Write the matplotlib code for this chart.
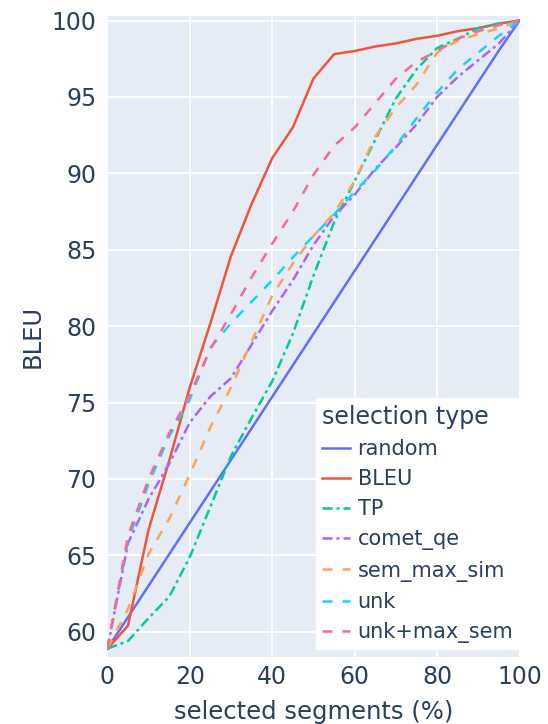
import matplotlib
matplotlib.use("Agg")
import matplotlib.pyplot as plt

plt.rcParams['font.family'] = ['DejaVu Sans']

# selected segments (%)
pct = [0, 5, 10, 15, 20, 25, 30, 35, 40, 45, 50, 55, 60, 65, 70, 75, 80, 85, 90, 95, 100]

random_ = [58.9, 60.96, 63.02, 65.08, 67.14, 69.2, 71.26, 73.32, 75.38, 77.44, 79.5,
           81.56, 83.62, 85.68, 87.74, 89.8, 91.86, 93.92, 95.98, 98.04, 100]
bleu = [58.9, 60.4, 66.7, 71.2, 76.0, 80.2, 84.6, 88.0, 91.0, 93.0, 96.2,
        97.8, 98.0, 98.3, 98.5, 98.8, 99.0, 99.3, 99.5, 99.8, 100]
tp = [58.9, 59.4, 60.9, 62.3, 64.9, 68.2, 71.5, 74.0, 76.4, 79.5, 83.3,
      86.8, 89.5, 92.2, 94.9, 96.8, 98.2, 98.8, 99.5, 99.8, 100]
comet_qe = [58.9, 65.8, 68.7, 71.0, 73.7, 75.4, 76.6, 78.8, 81.0, 83.0, 85.3,
            87.2, 88.6, 90.3, 91.7, 93.2, 95.0, 96.3, 97.4, 98.5, 100]
sem_max_sim = [58.9, 61.5, 65.1, 67.4, 70.3, 73.4, 76.0, 79.0, 82.0, 84.1, 85.9,
               87.4, 89.5, 92.4, 94.3, 95.8, 97.9, 98.7, 99.1, 99.5, 100]
unk = [58.9, 66.0, 69.7, 72.8, 75.2, 78.6, 80.2, 81.6, 83.0, 84.5, 85.9,
       87.3, 88.8, 90.2, 91.8, 93.6, 95.3, 96.8, 97.9, 99.0, 100]
unk_max_sem = [58.9, 66.3, 70.0, 73.0, 75.5, 78.5, 80.8, 83.2, 85.4, 87.5, 89.9,
               91.8, 93.0, 94.6, 96.2, 97.3, 98.0, 98.8, 99.3, 99.7, 100]

names = ["random", "BLEU", "TP", "comet_qe", "sem_max_sim", "unk", "unk+max_sem"]
series = [random_, bleu, tp, comet_qe, sem_max_sim, unk, unk_max_sem]
colors = ["#636EFA", "#EF553B", "#00CC96", "#AB63FA", "#FFA15A", "#19D3F3", "#FF6692"]
dashes = [None, None, (4, 1.6, 1.2, 1.6), (4, 1.6, 1.2, 1.6), (4, 4), (4, 4), (4, 4)]

txt = "#2a3f5f"
fig = plt.figure(figsize=(5.48, 7.24), dpi=100)
ax = fig.add_axes([0.196, 0.0925, 0.752, 0.8855])
ax.set_facecolor("#E5ECF6")

for name, ys, c, d in zip(names, series, colors, dashes):
    line, = ax.plot(pct, ys, color=c, lw=1.8, label=name)
    if d is not None:
        line.set_dashes(d)

ax.set_xlim(0, 100)
ax.set_ylim(58.35, 100.3)
ax.set_xticks([0, 20, 40, 60, 80, 100])
ax.set_yticks([60, 65, 70, 75, 80, 85, 90, 95, 100])
ax.grid(True, color="white", lw=1.3)
ax.set_axisbelow(True)
for s in ax.spines.values():
    s.set_visible(False)
ax.tick_params(length=0, labelsize=17, labelcolor=txt)
ax.tick_params(axis="x", pad=6)
ax.tick_params(axis="y", pad=8)
ax.set_xlabel("selected segments (%)", fontsize=17.5, color=txt, labelpad=8)
ax.set_ylabel("BLEU", fontsize=17.5, color=txt, labelpad=5)

leg = ax.legend(title="selection type", loc="lower right", bbox_to_anchor=(1.0, 0.012),
                fontsize=15, title_fontsize=17, frameon=True, fancybox=False,
                handlelength=1.35, handletextpad=0.35, labelspacing=0.49,
                borderpad=0.3, borderaxespad=0.0)
leg.get_frame().set_facecolor("white")
leg.get_frame().set_edgecolor("white")
leg.get_frame().set_alpha(1)
leg._legend_box.align = "left"
for t in leg.get_texts():
    t.set_color(txt)
leg.get_title().set_color(txt)

fig.savefig("out.png", dpi=100)
